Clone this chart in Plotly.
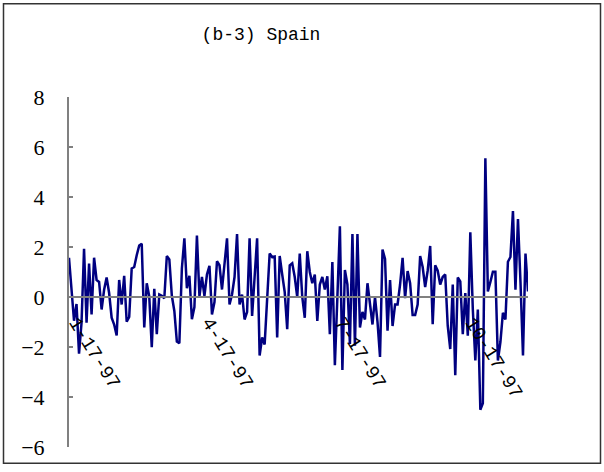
import plotly.graph_objects as go

# Series and labels
title_text = "(b-3) Spain"
values = [
    1.57, 0.43, -0.95, -0.28, -2.27, -1.03, 1.93, -1.03, 1.34, -0.70,
    1.57, 0.68, 0.60, -0.50, 0.29, 0.78, 0.16, -0.83, -1.10, -1.54,
    0.68, -0.30, 0.85, -0.99, -0.80, 1.14, 1.20, 1.67, 2.06,
    2.13, -1.22, 0.55, 0.02, -2.01, 0.33, -1.49, 0.10, 0.05, -0.05,
    1.64, 1.50, 0.05, -0.56, -1.78, -1.85, 1.14, 2.35, 0.35, 0.85,
    -0.89, -0.40, 2.46, 0.03, 0.80, 0.05, 0.90, 1.25, -0.70, -0.20,
    1.43, 1.27, 0.30,
    1.20, 2.35, -0.30, 0.10, 0.80, 2.52, -0.30, 0.10, -0.90, -0.60,
    2.35, -0.76, 0.80, 2.35, -2.34, -1.62, -1.90, 0.00, 1.74, 1.60,
    1.62, -1.62, 1.64, 0.90, 0.20, -1.29, 1.27, 1.35, 0.80, 0.00,
    1.74, 0.00, -0.83, 1.83, 1.00, 0.55, 0.90, -0.96, 0.50, 0.80,
    0.30, 0.83, -1.49, 1.40, -2.73, 0.00, 2.83, -2.92, 1.08, 0.50,
    -1.88, 2.52, -1.95, 2.52, -1.22, -0.60, -0.90, 0.55, -0.20, -1.10,
    0.00,
    -1.00, -2.40, 1.90, 1.52, -1.35, 0.68, -1.16, -0.30, -0.30, 0.50,
    1.57, -0.05, 1.04, 0.55, -0.72, -0.72, -0.30, 1.64, 1.20, 0.40,
    1.05, 2.04, -1.09, 1.27, 1.05, 0.50, 0.80, 0.90, -1.16, -2.08,
    0.50, -3.13, 0.78,
    0.62, -1.49, 0.16, -1.55, 2.59, -0.50, -2.54, -0.50, -4.51, -4.25,
    5.55, 0.22, 0.60, 1.01, 1.01, -2.54, -1.80, -0.63, -0.90, 1.41,
    1.60, 3.44, 0.29, 3.12, 0.60, -2.34, 1.74, 0.22,
]
tick_idx = [3, 56, 109, 161]
tick_text = ["1-17-97", "4-17-97", "7-17-97", "10-17-97"]
y_ticks = [-6, -4, -2, 0, 2, 4, 6, 8]
y_min, y_max = -6, 8

# Page geometry
W, H = 604, 472
L, R, T, B = 69, 76, 97, 20
pw, ph = W - L - R, H - T - B

n = len(values)
fig = go.Figure(
    go.Scatter(
        x=list(range(n)),
        y=values,
        mode="lines",
        line=dict(color="#000080", width=2.5),
        hoverinfo="skip",
        showlegend=False,
    )
)

axis_grey = "#808080"

fig.update_layout(
    width=W,
    height=H,
    margin=dict(l=L, r=R, t=T, b=B),
    paper_bgcolor="white",
    plot_bgcolor="white",
    title=dict(
        text=title_text,
        x=261 / W,
        xref="container",
        xanchor="center",
        y=1 - 34 / H,
        yref="container",
        yanchor="middle",
        font=dict(family="Liberation Mono", size=18, color="black"),
    ),
    xaxis=dict(
        range=[0, n - 1],
        anchor="free",
        position=(0 - y_min) / (y_max - y_min),
        showline=True,
        linecolor=axis_grey,
        linewidth=2,
        ticks="",
        tickmode="array",
        tickvals=tick_idx,
        ticktext=tick_text,
        tickangle=58,
        ticklabelstandoff=6,
        tickfont=dict(family="Liberation Mono", size=19, color="black"),
        showgrid=False,
        zeroline=False,
    ),
    yaxis=dict(
        range=[y_min, y_max],
        tickmode="array",
        tickvals=y_ticks,
        showline=True,
        linecolor=axis_grey,
        linewidth=2,
        ticks="inside",
        ticklen=4,
        tickwidth=2,
        tickcolor=axis_grey,
        ticklabelstandoff=18,
        tickfont=dict(family="Liberation Serif", size=22, color="black"),
        showgrid=False,
        zeroline=False,
    ),
    shapes=[
        dict(
            type="rect",
            xref="paper",
            yref="paper",
            x0=(3.5 - L) / pw,
            x1=(600.5 - L) / pw,
            y0=(H - B - 468.5) / ph,
            y1=(H - B - 2.5) / ph,
            line=dict(color="#333333", width=1.5),
            fillcolor="rgba(0,0,0,0)",
            layer="below",
        )
    ],
)

fig.write_html("out.html")
